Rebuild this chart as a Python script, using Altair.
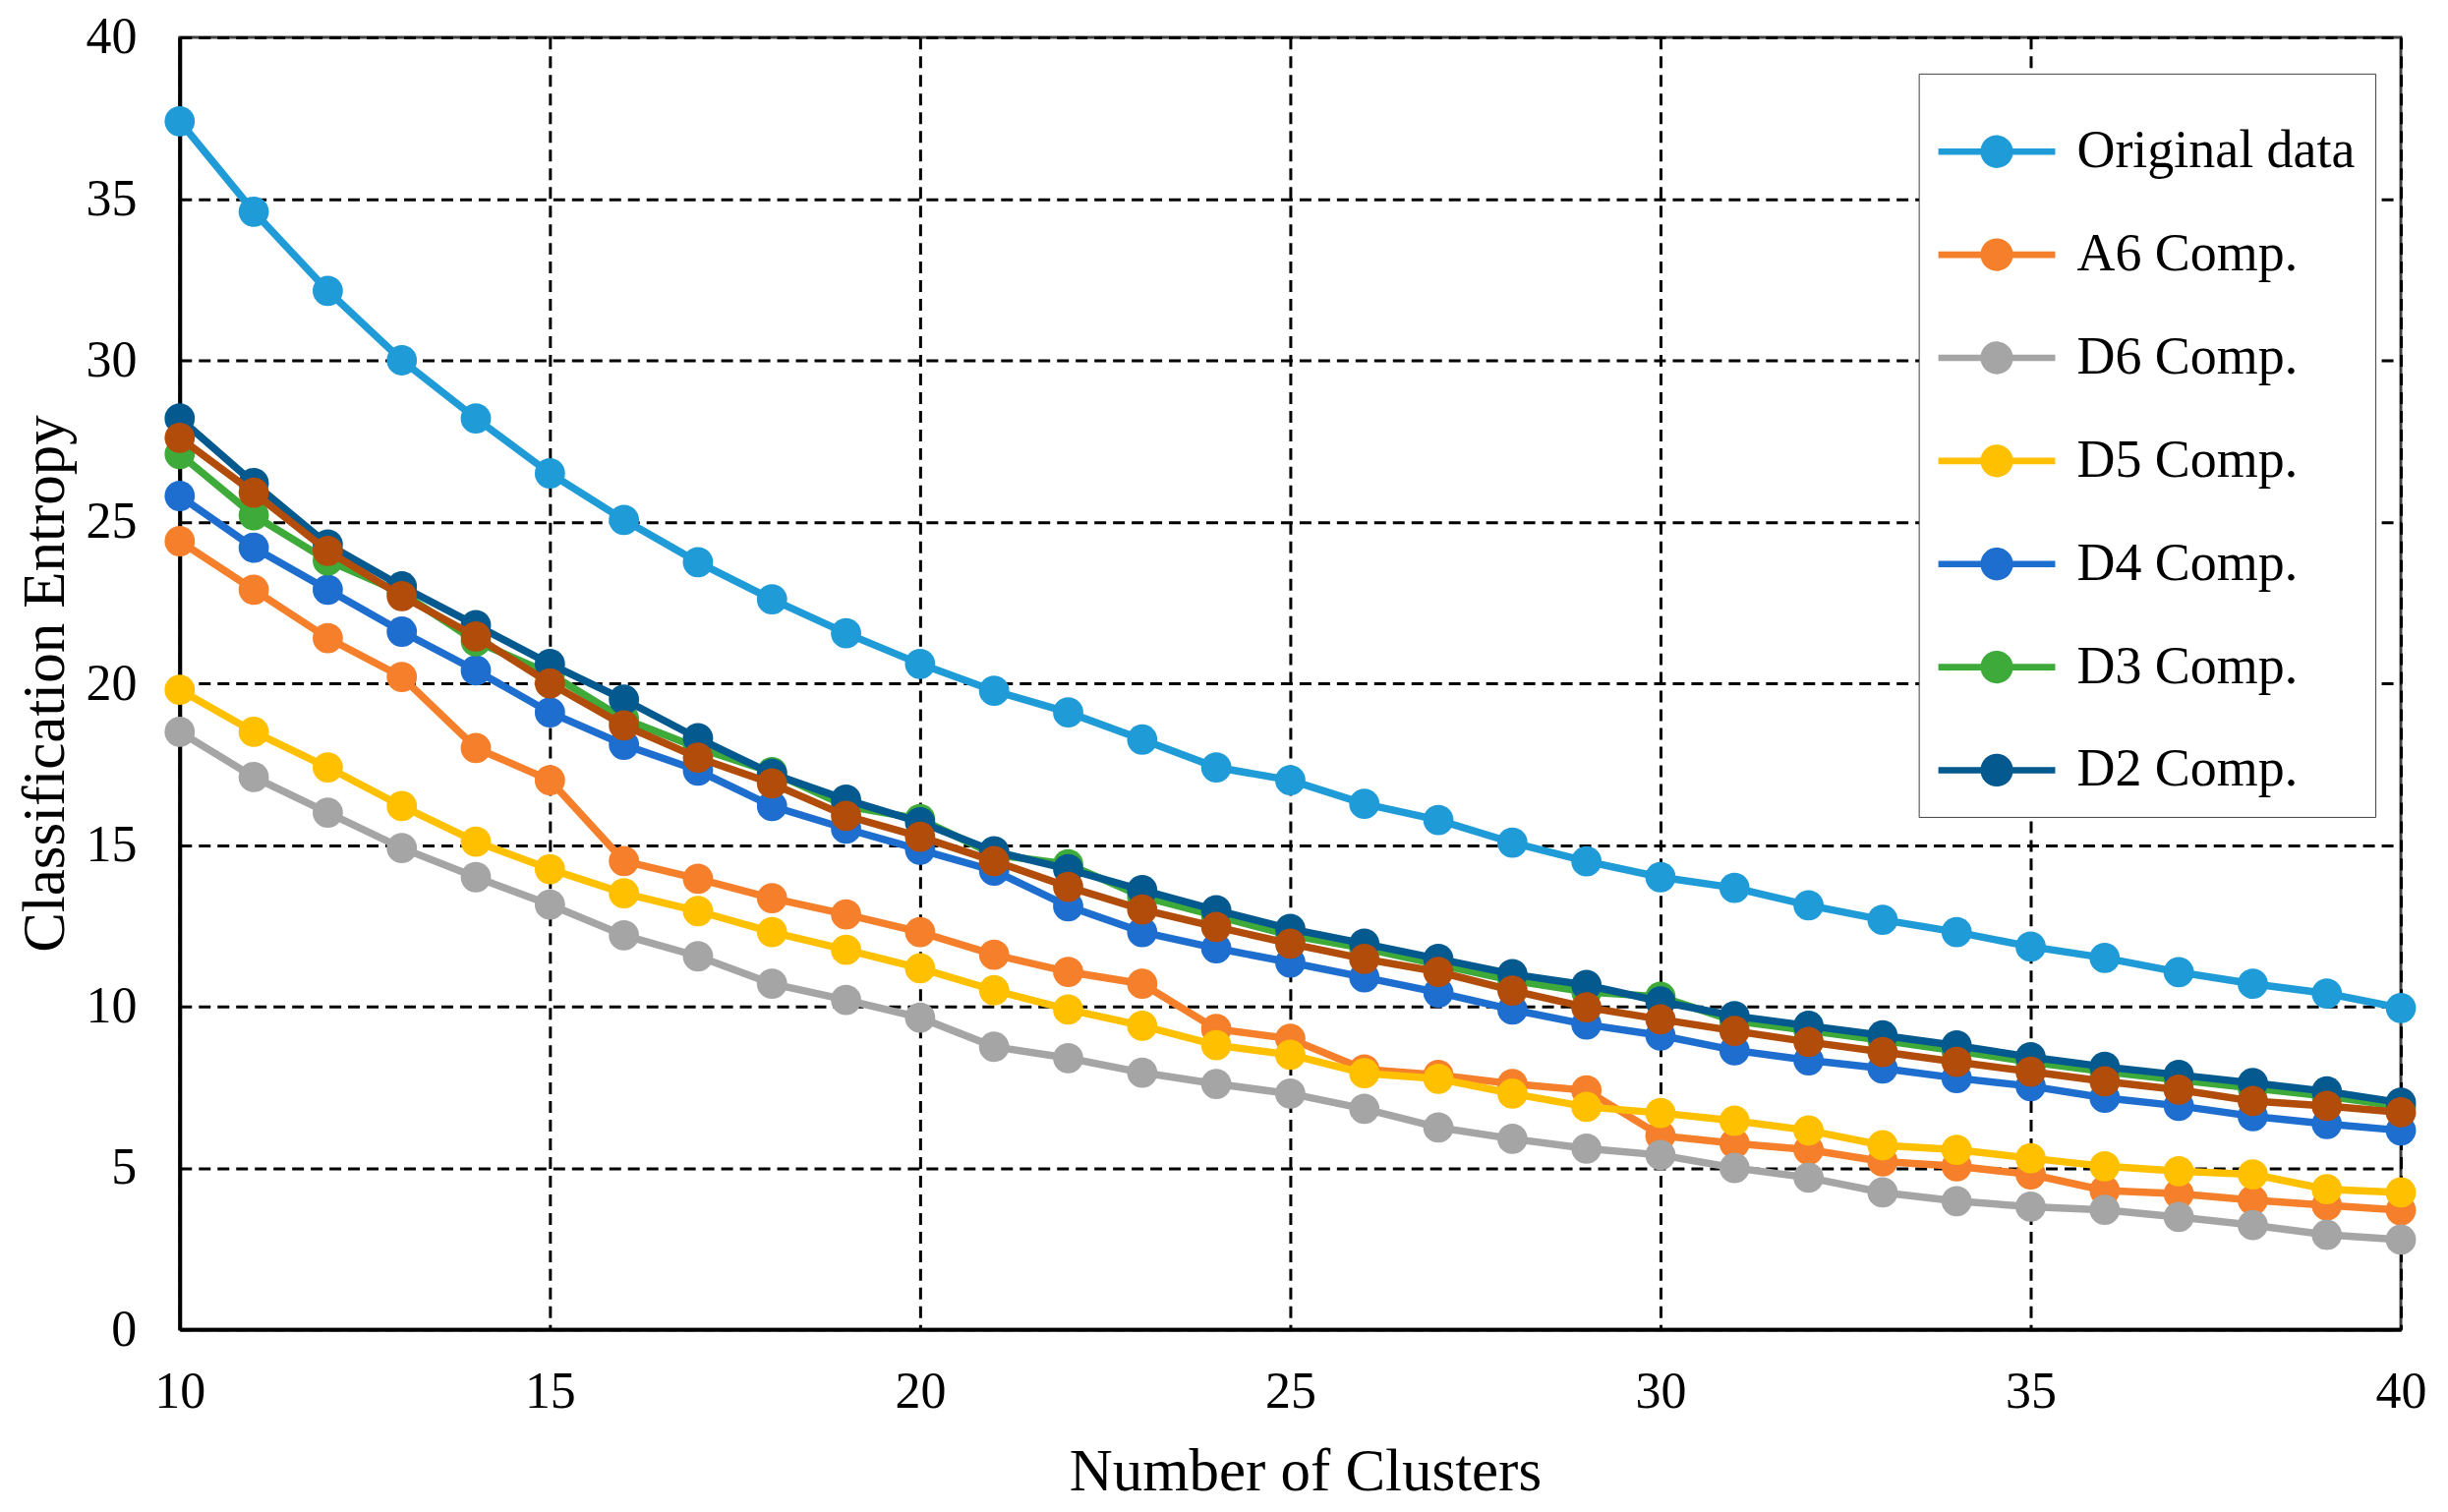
import altair as alt
import pandas as pd

clusters = list(range(10, 41))

series_names = ["Original data", "A6 Comp.", "D6 Comp.", "D5 Comp.", "D4 Comp.", "D3 Comp.", "D2 Comp.", "D1 Comp."]
series_colors = ["#1F9BD7", "#F57F2A", "#A5A5A5", "#FFC000", "#1E6ED0", "#3DAA3A", "#04598E", "#B14C0B"]
legend_names = series_names[:7]

original = [37.4, 34.6, 32.15, 30.0, 28.2, 26.5, 25.06, 23.75, 22.6, 21.55, 20.6,
            19.77, 19.1, 18.26, 17.4, 17.0, 16.27, 15.77, 15.07, 14.49, 14.0,
            13.67, 13.13, 12.68, 12.3, 11.85, 11.5, 11.06, 10.7, 10.4, 9.95]
a6 = [24.4, 22.9, 21.4, 20.2, 18.0, 17.0, 14.5, 13.95, 13.35, 12.85, 12.3,
      11.6, 11.07, 10.7, 9.3, 9.0, 8.05, 7.88, 7.6, 7.4, 6.0,
      5.76, 5.56, 5.2, 5.05, 4.8, 4.3, 4.2, 4.0, 3.84, 3.69]
d6 = [18.5, 17.1, 16.0, 14.9, 14.0, 13.15, 12.2, 11.55, 10.7, 10.2, 9.65,
      8.75, 8.4, 7.95, 7.6, 7.3, 6.83, 6.25, 5.9, 5.6, 5.4,
      5.0, 4.7, 4.24, 3.97, 3.8, 3.7, 3.48, 3.23, 2.93, 2.78]
d5 = [19.8, 18.5, 17.4, 16.2, 15.1, 14.25, 13.5, 12.95, 12.3, 11.75, 11.18,
      10.5, 9.9, 9.4, 8.8, 8.5, 7.93, 7.76, 7.3, 6.89, 6.7,
      6.46, 6.16, 5.7, 5.56, 5.3, 5.05, 4.9, 4.8, 4.34, 4.24]
d4 = [25.8, 24.2, 22.9, 21.6, 20.4, 19.1, 18.1, 17.3, 16.2, 15.5, 14.85,
      14.2, 13.1, 12.3, 11.8, 11.36, 10.9, 10.43, 9.9, 9.44, 9.1,
      8.64, 8.33, 8.08, 7.78, 7.53, 7.17, 6.92, 6.6, 6.36, 6.16]
d3 = [27.1, 25.2, 23.8, 22.8, 21.3, 20.3, 18.9, 18.0, 17.25, 16.2, 15.8,
      14.7, 14.4, 13.4, 12.8, 12.2, 11.8, 11.3, 10.8, 10.45, 10.3,
      9.55, 9.25, 8.95, 8.62, 8.28, 7.98, 7.72, 7.47, 7.22, 6.9]
d2 = [28.2, 26.2, 24.3, 23.0, 21.8, 20.6, 19.5, 18.3, 17.2, 16.4, 15.7,
      14.8, 14.25, 13.6, 12.98, 12.4, 11.94, 11.47, 11.0, 10.66, 10.15,
      9.7, 9.4, 9.1, 8.79, 8.43, 8.13, 7.88, 7.63, 7.37, 7.02]
d1 = [27.6, 25.9, 24.1, 22.7, 21.45, 20.0, 18.7, 17.7, 16.9, 15.9, 15.25,
      14.5, 13.7, 13.0, 12.46, 11.94, 11.47, 11.07, 10.49, 9.97, 9.6,
      9.24, 8.9, 8.59, 8.28, 7.98, 7.68, 7.42, 7.07, 6.92, 6.72]

all_values = [original, a6, d6, d5, d4, d3, d2, d1]

x_ticks = [10, 15, 20, 25, 30, 35, 40]
y_ticks = [0, 5, 10, 15, 20, 25, 30, 35, 40]

FONT = "Liberation Serif"

color_scale = alt.Scale(domain=series_names, range=series_colors)
legend = alt.Legend(
    title=None,
    values=legend_names,
    orient="none",
    legendX=1771,
    legendY=37,
    padding=20,
    strokeColor="#404040",
    fillColor="white",
    labelFont=FONT,
    labelFontSize=54,
    labelColor="black",
    labelLimit=600,
    labelOffset=22,
    rowPadding=18,
    symbolType="M-1,-0.055L1,-0.055L1,0.055L-1,0.055Z M0.28,0A0.28,0.28 0 1,1 -0.28,0A0.28,0.28 0 1,1 0.28,0Z",
    symbolSize=14161,
    symbolStrokeWidth=0,
)

x_enc = alt.X(
    "clusters:Q",
    scale=alt.Scale(domain=[10, 40], nice=False, zero=False),
    axis=alt.Axis(
        values=x_ticks, title="Number of Clusters", ticks=False, labelFlush=False,
        labelPadding=38, titleY=163, titleX=1146, titleBaseline="alphabetic",
    ),
)
y_enc = alt.Y(
    "value:Q",
    scale=alt.Scale(domain=[0, 40], nice=False),
    axis=alt.Axis(
        values=y_ticks, title="Classification Entropy", ticks=False, labelFlush=False,
        labelPadding=44, titleX=-136, titleY=658, titleBaseline="middle",
        titleAngle=270,
    ),
)

layers = []
for name, vals in zip(series_names, all_values):
    df = pd.DataFrame({"clusters": clusters, "value": vals, "series": name})
    base = alt.Chart(df).encode(
        x=x_enc,
        y=y_enc,
        color=alt.Color("series:N", scale=color_scale, legend=legend),
    )
    layers.append(base.mark_line(strokeWidth=7.5))
    layers.append(base.mark_point(filled=True, size=950, opacity=1, shape="circle"))

chart = alt.layer(*layers).properties(
    width=2262,
    height=1316,
    autosize=alt.AutoSizeParams(type="none"),
    padding={"left": 175, "top": 29, "right": 40, "bottom": 177},
).configure_view(
    stroke="#404040", strokeWidth=3
).configure_axis(
    labelFont=FONT, titleFont=FONT, labelFontSize=52, titleFontSize=61,
    labelColor="black", titleColor="black", titleFontWeight="normal",
    domainColor="black", domainWidth=4,
    grid=True, gridColor="black", gridDash=[12, 7], gridWidth=3, gridOpacity=1,
)

chart.save("out.html", embed_options={"renderer": "svg", "actions": False})
